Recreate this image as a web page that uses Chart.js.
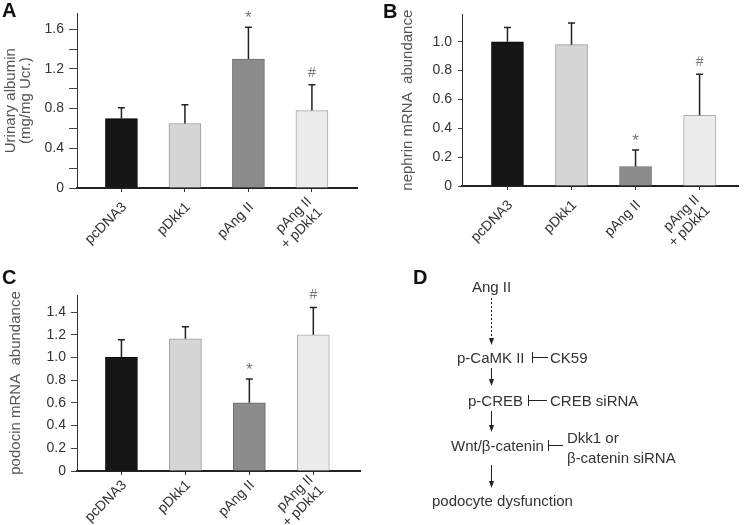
<!DOCTYPE html>
<html>
<head>
<meta charset="utf-8">
<script src="https://cdn.jsdelivr.net/npm/chart.js@4.4.1/dist/chart.umd.min.js"></script>
<style>
  body { margin: 0; background: #fff; width: 745px; height: 525px; position: relative; overflow: hidden; font-family: "Liberation Sans", Arial, sans-serif; }
  canvas { position: absolute; }
  #chartA { left: 0; top: 0; }
  #chartB { left: 370px; top: 0; }
  #chartC { left: 0; top: 260px; }
  .panel { position: absolute; font-weight: bold; font-size: 20px; line-height: 20px; color: #111; }
  #diagram { position: absolute; left: 0; top: 0; pointer-events: none; }
</style>
</head>
<body>
<canvas id="chartA" width="370" height="260"></canvas>
<canvas id="chartB" width="375" height="260"></canvas>
<canvas id="chartC" width="370" height="265"></canvas>

<div class="panel" style="left:2px;top:0px">A</div>
<div class="panel" style="left:383px;top:1px">B</div>
<div class="panel" style="left:2px;top:267px">C</div>
<div class="panel" style="left:413px;top:267px">D</div>

<svg id="diagram" width="745" height="525" font-family="Liberation Sans, Arial, sans-serif" font-size="15" fill="#333">
  <g stroke="#222" stroke-width="1">
    <line x1="491.5" y1="298" x2="491.5" y2="338" stroke-dasharray="2,2"/>
    <line x1="491.5" y1="368" x2="491.5" y2="379"/>
    <line x1="491.5" y1="411" x2="491.5" y2="425"/>
    <line x1="491.5" y1="465" x2="491.5" y2="481"/>
    <!-- inhibiciones -->
    <line x1="532.5" y1="352" x2="532.5" y2="363"/><line x1="532" y1="357.5" x2="548" y2="357.5"/>
    <line x1="528.5" y1="395" x2="528.5" y2="406"/><line x1="528" y1="400.5" x2="547" y2="400.5"/>
    <line x1="548.5" y1="440" x2="548.5" y2="451"/><line x1="548" y1="445.5" x2="563" y2="445.5"/>
  </g>
  <g fill="#222">
    <path d="M489,338 L494,338 L491.5,345 z"/>
    <path d="M489,379 L494,379 L491.5,386 z"/>
    <path d="M489,425 L494,425 L491.5,432 z"/>
    <path d="M489,481 L494,481 L491.5,488 z"/>
  </g>
  <g dominant-baseline="central">
    <text x="472" y="286">Ang II</text>
    <text x="457" y="357">p-CaMK II</text>
    <text x="550" y="357">CK59</text>
    <text x="468" y="400">p-CREB</text>
    <text x="550" y="400">CREB siRNA</text>
    <text x="451" y="445">Wnt/β-catenin</text>
    <text x="567" y="437">Dkk1 or</text>
    <text x="567" y="457">β-catenin siRNA</text>
    <text x="432" y="500">podocyte dysfunction</text>
  </g>
</svg>

<script>
// datos
const categories = ['pcDNA3', 'pDkk1', 'pAng II', 'pAng II\n+ pDkk1'];
const marks = ['', '', '*', '#'];

const albuminMean = [0.70, 0.65, 1.30, 0.78];
const albuminErr = [0.11, 0.19, 0.32, 0.26];

const nephrinMean = [1.00, 0.98, 0.135, 0.49];
const nephrinErr = [0.10, 0.15, 0.115, 0.285];

const podocinMean = [1.00, 1.165, 0.60, 1.20];
const podocinErr = [0.155, 0.105, 0.21, 0.24];

const barFill = ['#151515', '#d6d6d6', '#8c8c8c', '#ececec'];
const barEdge = ['#000000', '#9b9b9b', '#6b6b6b', '#ababab'];

const fontFamily = '"Liberation Sans", Arial, sans-serif';

// barras de error y asteriscos
const errorBars = {
    id: 'errorBars',
    afterDatasetsDraw(chart, args, opts) {
        const ctx = chart.ctx;
        const x = chart.scales.x, y = chart.scales.y;
        ctx.save();
        chart.data.datasets[0].data.forEach(function (p, i) {
            const px = x.getPixelForValue(p.x);
            const top = y.getPixelForValue(p.y);
            const end = y.getPixelForValue(p.y + opts.errs[i]);
            ctx.strokeStyle = '#222';
            ctx.lineWidth = 1.5;
            ctx.beginPath();
            ctx.moveTo(px, top);
            ctx.lineTo(px, end);
            ctx.moveTo(px - 3.5, end);
            ctx.lineTo(px + 3.5, end);
            ctx.stroke();
            const m = opts.marks[i];
            if (m) {
                ctx.fillStyle = '#777';
                ctx.textAlign = 'center';
                ctx.textBaseline = 'alphabetic';
                ctx.font = (m === '*' ? '17px ' : '14px ') + fontFamily;
                ctx.fillText(m, px, end - (m === '*' ? 4 : 8));
            }
        });
        ctx.restore();
    }
};

// etiquetas del eje x giradas 45 grados, centradas en el tick
const xLabels = {
    id: 'xLabels',
    afterDraw(chart, args, opts) {
        const ctx = chart.ctx, x = chart.scales.x;
        ctx.save();
        ctx.font = '14px ' + fontFamily;
        ctx.fillStyle = '#333';
        ctx.textAlign = 'right';
        ctx.textBaseline = 'middle';
        categories.forEach(function (c, i) {
            const lines = c.split('\n');
            ctx.save();
            ctx.translate(x.getPixelForValue(i + 1) + 3, x.top + opts.gap);
            ctx.rotate(-Math.PI / 4);
            lines.forEach(function (t, j) {
                ctx.fillText(t, 0, (j - (lines.length - 1) / 2) * 15);
            });
            ctx.restore();
        });
        ctx.restore();
    }
};

function yLabel(every) {
    return function (v) {
        const k = Math.round(v * 10);
        if (k % every !== 0) return '';
        return k === 0 ? '0' : (k / 10).toFixed(1);
    };
}

function makeChart(id, means, errs, cfg) {
    const ctx = document.getElementById(id).getContext('2d');
    return new Chart(ctx, {
        type: 'bar',
        data: {
            datasets: [{
                data: means.map(function (v, i) { return { x: i + 1, y: v }; }),
                backgroundColor: barFill,
                borderColor: barEdge,
                borderWidth: 1,
                barThickness: 32
            }]
        },
        options: {
            responsive: false,
            animation: false,
            layout: { padding: { top: cfg.top, right: cfg.right, left: 0, bottom: 0 } },
            plugins: {
                legend: { display: false },
                tooltip: { enabled: false },
                errorBars: { errs: errs, marks: marks },
                xLabels: { gap: cfg.labelGap }
            },
            scales: {
                x: {
                    type: 'linear',
                    min: cfg.xMin,
                    max: cfg.xMax,
                    offset: false,
                    afterFit: function (s) { s.height = cfg.xHeight; },
                    border: { display: true, color: '#222', width: 2 },
                    grid: { drawOnChartArea: false, offset: false, tickLength: 4, color: '#333' },
                    ticks: {
                        stepSize: 1,
                        includeBounds: false,
                        autoSkip: false,
                        maxRotation: 0,
                        color: 'rgba(0,0,0,0)',
                        callback: function () { return ' '; }
                    }
                },
                y: {
                    min: 0,
                    max: cfg.yMax,
                    afterFit: function (s) { s.width = cfg.yWidth; },
                    border: { display: true, color: '#333', width: 1 },
                    grid: { drawOnChartArea: false, tickLength: cfg.tickLen, color: '#444' },
                    title: {
                        display: true,
                        text: cfg.title,
                        color: '#555',
                        padding: { top: cfg.titlePad, bottom: 0 },
                        font: { family: fontFamily, size: 15, lineHeight: 1.0 }
                    },
                    ticks: {
                        stepSize: 0.2,
                        includeBounds: false,
                        padding: cfg.tickPad,
                        color: '#333',
                        font: { family: fontFamily, size: 14 },
                        callback: yLabel(cfg.every)
                    }
                }
            }
        },
        plugins: [errorBars, xLabels]
    });
}

document.addEventListener('DOMContentLoaded', function () {
    makeChart('chartA', albuminMean, albuminErr, {
        top: 12, right: 13, xMin: 0.30, xMax: 4.71, xHeight: 72, yWidth: 77, labelGap: 17,
        yMax: 1.76, every: 4, tickLen: 8, tickPad: 5,
        title: ['Urinary albumin', '(mg/mg Ucr.)'], titlePad: 3
    });
    makeChart('chartB', nephrinMean, nephrinErr, {
        top: 8, right: 7, xMin: 0.29, xMax: 4.6, xHeight: 74, yWidth: 92, labelGap: 17,
        yMax: 1.19, every: 2, tickLen: 4, tickPad: 6,
        title: 'nephrin mRNA  abundance', titlePad: 30
    });
    makeChart('chartC', podocinMean, podocinErr, {
        top: 35, right: 10, xMin: 0.305, xMax: 4.73, xHeight: 54, yWidth: 77, labelGap: 12,
        yMax: 1.55, every: 2, tickLen: 6, tickPad: 5,
        title: 'podocin mRNA  abundance', titlePad: 8
    });
});
</script>
</body>
</html>
